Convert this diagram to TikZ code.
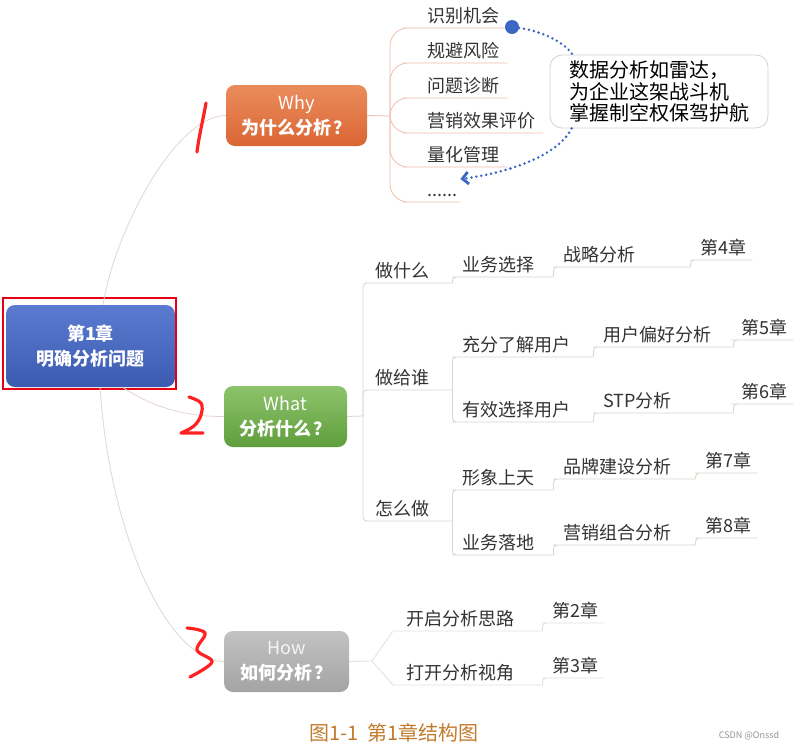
\documentclass[tikz,border=0pt]{standalone}
\usepackage{fontspec}
\setmainfont{Noto Sans CJK SC}
\usetikzlibrary{arrows.meta}

\definecolor{roottop}{HTML}{5B7BD0}
\definecolor{rootbot}{HTML}{3B5BB0}
\definecolor{whytop}{HTML}{EA8C5C}
\definecolor{whybot}{HTML}{DB6634}
\definecolor{whattop}{HTML}{8DC36B}
\definecolor{whatbot}{HTML}{5F9E3D}
\definecolor{howtop}{HTML}{C2C2C2}
\definecolor{howbot}{HTML}{A4A4A4}
\definecolor{mainln}{HTML}{E4D6CE}
\definecolor{whyln}{HTML}{F0C0AC}
\definecolor{whatln}{HTML}{D6D9CC}
\definecolor{howln}{HTML}{E0E0E0}
\definecolor{leafgray}{HTML}{333333}
\definecolor{dotblue}{HTML}{3B66C3}
\definecolor{penred}{HTML}{FF2222}
\definecolor{hlred}{HTML}{E60012}
\definecolor{calloutgray}{HTML}{D2D2D2}
\definecolor{capbrown}{HTML}{C27A2C}

\newcommand{\qmark}{\kern3pt ？}

\begin{document}
\begin{tikzpicture}[x=1pt, y=-1pt,
    topic/.style={rounded corners=9pt, inner sep=0pt, align=center, text=white,
      font=\fontsize{18}{25}\selectfont},
    leaf/.style={anchor=south west, inner xsep=6pt, inner ysep=1.5pt,
      text width=#1pt, text height=16pt, text depth=3.6pt, text=leafgray,
      font=\fontsize{18}{22}\selectfont},
    mainline/.style={draw=mainln, line width=0.8pt},
    whyline/.style={draw=whyln, line width=0.8pt, rounded corners=18pt},
    whatline/.style={draw=whatln, line width=0.8pt, rounded corners=4pt},
    howline/.style={draw=howln, line width=0.8pt},
    radarline/.style={draw=dotblue, line width=2.8pt, line cap=round, dash pattern=on 0pt off 5pt},
    redpen/.style={draw=penred, line width=3.2pt, line cap=round, line join=round}
  ]
  \fill[white] (0,0) rectangle (801,750);
  \useasboundingbox (0,0) rectangle (801,750);

  % Chapter
  \node[topic, minimum width=169pt, minimum height=82pt, top color=roottop, bottom color=rootbot]
    (root) at (90.5,346) {\bfseries 第1章\\\bfseries 明确分析问题};
  \draw[hlred, line width=2pt] ([shift={(-3,-7)}]root.north west) rectangle ([shift={(1,2)}]root.south east);

  % Why / What / How
  \node[topic, minimum width=141pt, minimum height=61pt, top color=whytop, bottom color=whybot]
    (why) at (296.5,115.5) {Why\\\bfseries 为什么分析\qmark};
  \node[topic, minimum width=123pt, minimum height=61pt, top color=whattop, bottom color=whatbot]
    (what) at (285.5,416.5) {What\\\bfseries 分析什么\qmark};
  \node[topic, minimum width=125pt, minimum height=61pt, top color=howtop, bottom color=howbot]
    (how) at (286.5,661.5) {\textcolor{white!92!gray}{How}\\\bfseries 如何分析\qmark};

  \draw[mainline] (103,305) .. controls +(12,-75) and +(-50,0) .. (why.west);
  \draw[mainline] (122,387) .. controls +(28,18) and +(-44,0) .. (what.west);
  \draw[mainline] (100,387) .. controls +(10,153) and +(-54,0) .. (how.west);

  % Why branch
  \coordinate (wj) at (390,116);
  \node[leaf=74] (w1) at (421,28) {识别机会};
  \node[leaf=74] (w2) at (421,63) {规避风险};
  \node[leaf=74] (w3) at (421,98) {问题诊断};
  \node[leaf=110] (w4) at (421,133) {营销效果评价};
  \node[leaf=74] (w5) at (421,167) {量化管理};
  \node[leaf=27] (w6) at (421,202) {......};
  \draw[whyline] (why.east) -- (wj);
  \foreach \n in {w1,w2,w3,w4,w5,w6}
    \draw[whyline] (wj) |- (\n.south west) -- (\n.south east);

  % radar note
  \node[draw=calloutgray, line width=0.8pt, rounded corners=12pt, minimum width=218pt, minimum height=73pt,
    align=left, font=\fontsize{20}{21.5}\selectfont] (radar) at (659,91.5)
    {数据分析如雷达，\\为企业这架战斗机\\掌握制空权保驾护航};
  \node[circle, fill=dotblue, minimum size=14pt, inner sep=0pt] (spot) at (512,27) {};
  \draw[radarline] (spot) .. controls +(30,4) and +(-8,-12) .. ([xshift=23pt]radar.north west);
  \draw[radarline, -{Straight Barb[length=6pt, width=12pt]}]
    ([xshift=22pt]radar.south west) .. controls +(-15,30) and +(40,-5) .. (w6.north east);

  % What branch
  \coordinate (tj) at (363,416);
  \node[leaf=71] (t1) at (369,283) {做什么};
  \node[leaf=71] (t2) at (369,390) {做给谁};
  \node[leaf=71] (t3) at (369,521) {怎么做};
  \draw[whatline] (what.east) -- (tj);
  \foreach \n in {t1,t2,t3}
    \draw[whatline] (tj) |- (\n.south west) -- (\n.south east);

  \node[leaf=85] (a1) at (456,277) {业务选择};
  \node[leaf=121] (a2) at (557,267) {战略分析};
  \node[leaf=46] (a3) at (694,260) {第4章};
  \draw[whatline] (t1.south east) |- (a1.south west) -- (a1.south east);
  \draw[whatline] (a1.south east) |- (a2.south west) -- (a2.south east);
  \draw[whatline] (a2.south east) |- (a3.south west) -- (a3.south east);

  \node[leaf=125] (b1) at (456,357) {充分了解用户};
  \node[leaf=124] (b3) at (597,347) {用户偏好分析};
  \node[leaf=46] (b5) at (735,340) {第5章};
  \node[leaf=125] (b2) at (456,422) {有效选择用户};
  \node[leaf=124] (b4) at (597,413) {STP分析};
  \node[leaf=46] (b6) at (735,404) {第6章};
  \draw[whatline] (t2.south east) |- (b1.south west) -- (b1.south east);
  \draw[whatline] (t2.south east) |- (b2.south west) -- (b2.south east);
  \draw[whatline] (b1.south east) |- (b3.south west) -- (b3.south east);
  \draw[whatline] (b3.south east) |- (b5.south west) -- (b5.south east);
  \draw[whatline] (b2.south east) |- (b4.south west) -- (b4.south east);
  \draw[whatline] (b4.south east) |- (b6.south west) -- (b6.south east);

  \node[leaf=85] (c1) at (456,490) {形象上天};
  \node[leaf=126] (c3) at (557,479) {品牌建设分析};
  \node[leaf=46] (c5) at (699,473) {第7章};
  \node[leaf=85] (c2) at (456,555) {业务落地};
  \node[leaf=126] (c4) at (557,545) {营销组合分析};
  \node[leaf=46] (c6) at (699,538) {第8章};
  \draw[whatline] (t3.south east) |- (c1.south west) -- (c1.south east);
  \draw[whatline] (t3.south east) |- (c2.south west) -- (c2.south east);
  \draw[whatline] (c1.south east) |- (c3.south west) -- (c3.south east);
  \draw[whatline] (c3.south east) |- (c5.south west) -- (c5.south east);
  \draw[whatline] (c2.south east) |- (c4.south west) -- (c4.south east);
  \draw[whatline] (c4.south east) |- (c6.south west) -- (c6.south east);

  % How branch
  \coordinate (hj) at (372,661);
  \node[leaf=130] (h1) at (400,631) {开启分析思路};
  \node[leaf=46] (h3) at (546,623) {第2章};
  \node[leaf=130] (h2) at (400,685) {打开分析视角};
  \node[leaf=46] (h4) at (546,678) {第3章};
  \draw[howline] (how.east) -- (hj);
  \draw[howline] (hj) -- ([xshift=-7pt]h1.south west) -- (h1.south east);
  \draw[howline] (hj) -- ([xshift=-7pt]h2.south west) -- (h2.south east);
  \draw[howline, rounded corners=4pt] (h1.south east) |- (h3.south west) -- (h3.south east);
  \draw[howline, rounded corners=4pt] (h2.south east) |- (h4.south west) -- (h4.south east);

  % hand-written numbers
  \draw[redpen] (206,103) .. controls (203,120) and (199,136) .. (197,152);
  \draw[redpen] plot[smooth, tension=0.6] coordinates {(189,397) (201,403) (201,415) (194,426) (181,433)} -- (203,433);
  \draw[redpen] plot[smooth, tension=0.6] coordinates {(187,628) (205,633) (197,650) (212,662) (190,677)};

  % caption
  \node[font=\fontsize{20}{24}\selectfont, text=capbrown] (caption) at (394,733) {图1-1\ \ 第1章结构图};
  \node[font=\fontsize{9}{10}\selectfont, text=gray!85] (mark) at (749,736) {CSDN @Onssd};
\end{tikzpicture}
\end{document}
